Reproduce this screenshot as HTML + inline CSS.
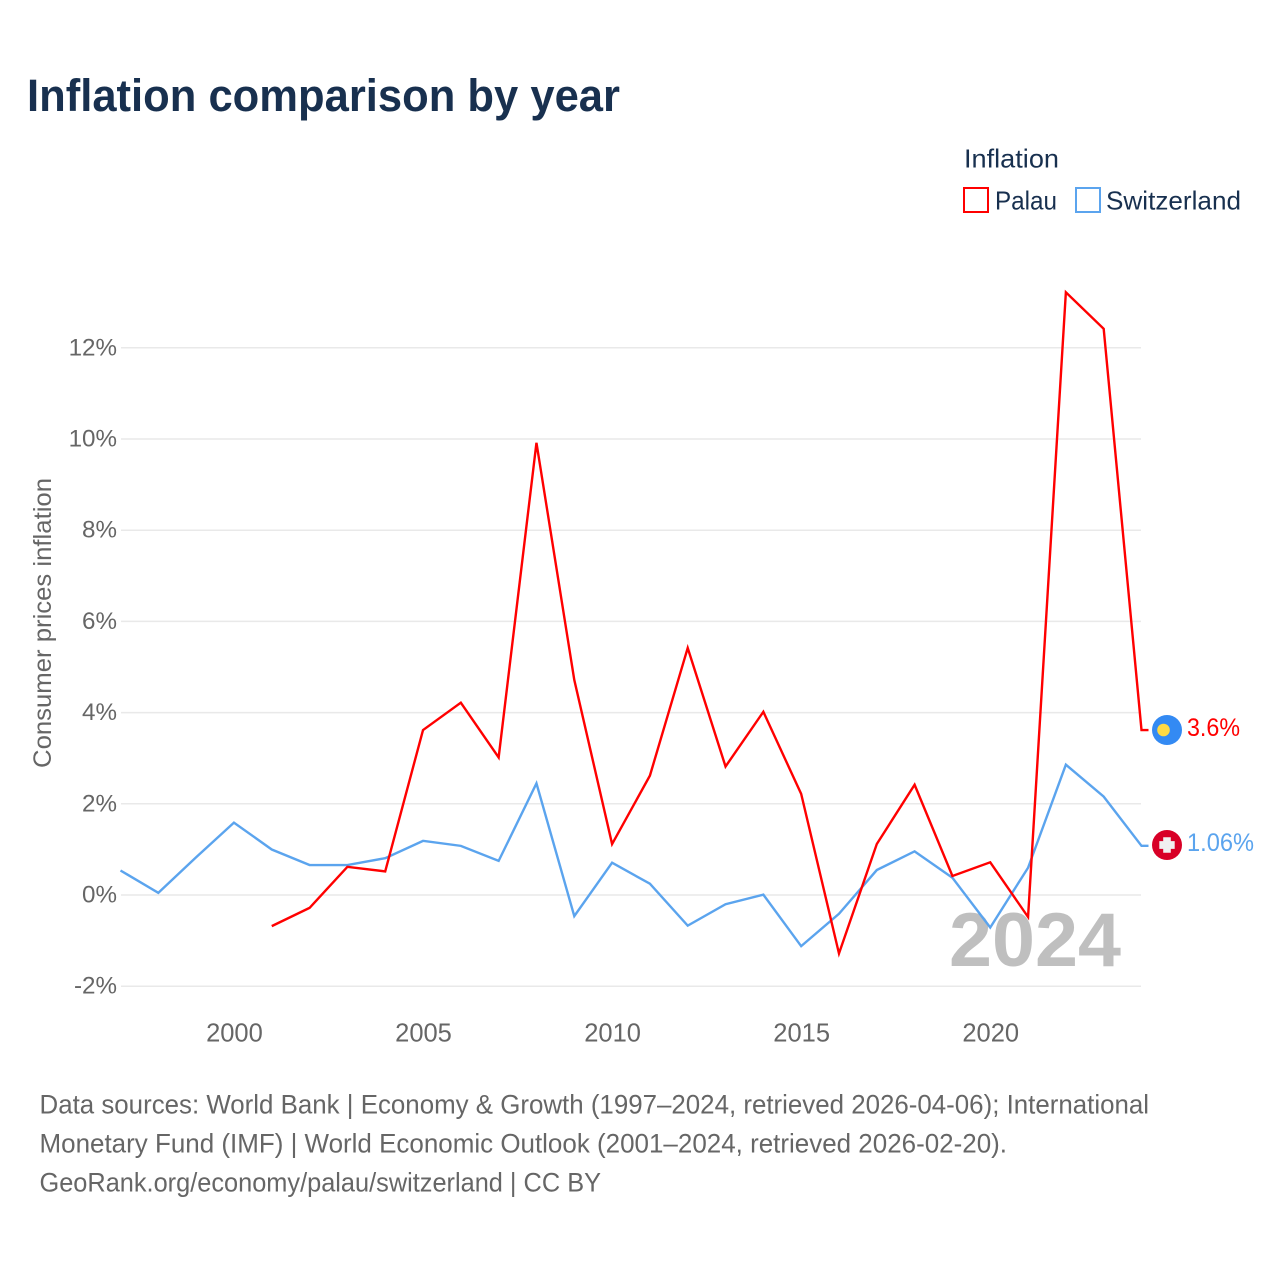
<!DOCTYPE html>
<html lang="en">
<head>
<meta charset="utf-8">
<title>Inflation comparison by year</title>
<style>
html,body{margin:0;padding:0;background:#fff;}
svg{display:block;}
text{font-family:"Liberation Sans",sans-serif;}
</style>
</head>
<body>
<svg id="chart" xmlns="http://www.w3.org/2000/svg" width="1280" height="1280" viewBox="0 0 1280 1280">
  <rect width="1280" height="1280" fill="#ffffff"/>
  <text x="27" y="111" font-size="45" font-weight="700" fill="#18304f" textLength="593" lengthAdjust="spacingAndGlyphs">Inflation comparison by year</text>

  <g>
    <text x="964" y="167.5" font-size="26" fill="#18304f" textLength="95" lengthAdjust="spacingAndGlyphs">Inflation</text>
    <rect x="964" y="188" width="24" height="24" fill="none" stroke="#ff0000" stroke-width="2"/>
    <text x="995" y="209.5" font-size="26" fill="#18304f" textLength="62" lengthAdjust="spacingAndGlyphs">Palau</text>
    <rect x="1076" y="188" width="24" height="24" fill="none" stroke="#5ba4ee" stroke-width="2"/>
    <text x="1106" y="209.5" font-size="26" fill="#18304f" textLength="135" lengthAdjust="spacingAndGlyphs">Switzerland</text>
  </g>

  <g id="grid"></g>
  <g id="yticks"></g>
  <g id="xticks"></g>
  <text transform="translate(51,623) rotate(-90)" text-anchor="middle" font-size="25" fill="#666666" textLength="290" lengthAdjust="spacingAndGlyphs">Consumer prices inflation</text>

  <text x="949" y="966" font-size="76" font-weight="700" fill="#bfbfbf" textLength="172" lengthAdjust="spacingAndGlyphs">2024</text>

  <g id="series"></g>

  <g>
    <circle cx="1167" cy="730" r="15" fill="#338af3"/>
    <circle cx="1163.5" cy="730" r="6.3" fill="#ffda44"/>
  </g>
  <g>
    <circle cx="1167" cy="845" r="15" fill="#d80027"/>
    <path d="M1163.2 837.2h7.6v3.9h3.9v7.8h-3.9v3.9h-7.6v-3.9h-3.9v-7.8h3.9z" fill="#f0f0f0"/>
  </g>
  <text id="label-palau" x="1187" y="736" font-size="25" fill="#ff0000" textLength="53" lengthAdjust="spacingAndGlyphs"></text>
  <text id="label-swiss" x="1187" y="851" font-size="25" fill="#5ba4ee" textLength="67" lengthAdjust="spacingAndGlyphs"></text>

  <g font-size="26.5" fill="#666666">
    <text x="39.5" y="1113.5" textLength="1109.5" lengthAdjust="spacingAndGlyphs">Data sources: World Bank | Economy &amp; Growth (1997–2024, retrieved 2026-04-06); International</text>
    <text x="39.5" y="1152.5" textLength="967.5" lengthAdjust="spacingAndGlyphs">Monetary Fund (IMF) | World Economic Outlook (2001–2024, retrieved 2026-02-20).</text>
    <text x="39.5" y="1191.5" textLength="561.5" lengthAdjust="spacingAndGlyphs">GeoRank.org/economy/palau/switzerland | CC BY</text>
  </g>
</svg>
<script>
const years = [1997,1998,1999,2000,2001,2002,2003,2004,2005,2006,2007,2008,2009,2010,2011,2012,2013,2014,2015,2016,2017,2018,2019,2020,2021,2022,2023,2024];
const palauValues = [null,null,null,null,-0.7,-0.3,0.6,0.5,3.6,4.2,3.0,9.9,4.7,1.1,2.6,5.4,2.8,4.0,2.2,-1.3,1.1,2.4,0.4,0.7,-0.5,13.2,12.4,3.6];
const switzerlandValues = [0.52,0.03,0.81,1.57,0.98,0.64,0.64,0.79,1.17,1.06,0.73,2.43,-0.48,0.69,0.23,-0.69,-0.22,-0.01,-1.14,-0.43,0.53,0.94,0.36,-0.73,0.58,2.84,2.14,1.06];
const yTickValues = [-2,0,2,4,6,8,10,12];
const xTickValues = [2000,2005,2010,2015,2020];
const palauEndLabel = "3.6%";
const switzerlandEndLabel = "1.06%";

const NS = "http://www.w3.org/2000/svg";
const xScale = function (year) { return 121 + (year - 1997) * (1142 - 121) / 27; };
const yScale = function (value) { return 895 - value * 45.6; };
const lineXScale = function (year) { return xScale(year) - 0.5; };
const lineYScale = function (value) { return yScale(value) - 0.8; };

const grid = document.getElementById("grid");
const yticks = document.getElementById("yticks");
const xticks = document.getElementById("xticks");
const seriesGroup = document.getElementById("series");

yTickValues.forEach(function (v) {
  const line = document.createElementNS(NS, "line");
  
  
  line.setAttribute("x1", 121);
  line.setAttribute("x2", 1141);
  line.setAttribute("y1", yScale(v));
  line.setAttribute("y2", yScale(v));
  line.setAttribute("stroke", "#e9e9e9");
  line.setAttribute("stroke-width", "1.5");
  grid.appendChild(line);

  const label = document.createElementNS(NS, "text");
  
  
  label.setAttribute("x", 117);
  label.setAttribute("y", yScale(v) + 7.5);
  label.setAttribute("text-anchor", "end");
  label.setAttribute("font-size", "24.2");
  label.setAttribute("fill", "#666666");
  label.textContent = v + "%";
  yticks.appendChild(label);
});

xTickValues.forEach(function (y) {
  const label = document.createElementNS(NS, "text");
  
  
  label.setAttribute("x", xScale(y));
  label.setAttribute("y", 1041.5);
  label.setAttribute("text-anchor", "middle");
  label.setAttribute("font-size", "25.5");
  label.setAttribute("fill", "#666666");
  label.textContent = y;
  xticks.appendChild(label);
});

function linePoints(values) {
  const pts = [];
  values.forEach(function (v, i) {
    if (v !== null) { pts.push(lineXScale(years[i]).toFixed(2) + "," + lineYScale(v).toFixed(2)); }
  });
  const last = values[values.length - 1];
  pts.push((lineXScale(years[years.length - 1]) + 7).toFixed(2) + "," + lineYScale(last).toFixed(2));
  return pts.join(" ");
}

const swissLine = document.createElementNS(NS, "polyline");


swissLine.setAttribute("points", linePoints(switzerlandValues));
swissLine.setAttribute("fill", "none");
swissLine.setAttribute("stroke", "#5ba4ee");
swissLine.setAttribute("stroke-width", "2.4");
seriesGroup.appendChild(swissLine);

const palauLine = document.createElementNS(NS, "polyline");


palauLine.setAttribute("points", linePoints(palauValues));
palauLine.setAttribute("fill", "none");
palauLine.setAttribute("stroke", "#ff0000");
palauLine.setAttribute("stroke-width", "2.4");
seriesGroup.appendChild(palauLine);

document.getElementById("label-palau").textContent = palauEndLabel;
document.getElementById("label-swiss").textContent = switzerlandEndLabel;
</script>
</body>
</html>
